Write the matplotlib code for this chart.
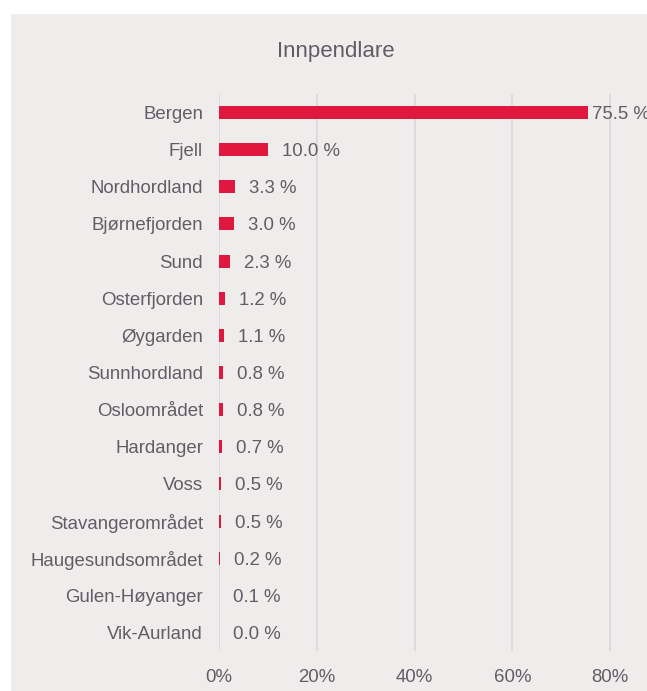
import matplotlib
matplotlib.use("Agg")
import matplotlib.pyplot as plt
from matplotlib.patches import Rectangle

plt.rcParams['font.family'] = ['Liberation Sans', 'DejaVu Sans']

# data
regions = ["Bergen", "Fjell", "Nordhordland", "Bjørnefjorden", "Sund",
           "Osterfjorden", "Øygarden", "Sunnhordland", "Osloområdet",
           "Hardanger", "Voss", "Stavangerområdet", "Haugesundsområdet",
           "Gulen-Høyanger", "Vik-Aurland"]
shares = [75.5, 10.0, 3.3, 3.0, 2.3, 1.2, 1.1, 0.8, 0.8, 0.7, 0.5, 0.5, 0.2, 0.1, 0.0]
xticks = [0, 20, 40, 60, 80]

text_col = "#655b66"
bar_col = "#e0173f"
bg_col = "#efedec"
grid_col = "#dcd8de"

W, H = 647, 691
fig = plt.figure(figsize=(W / 100, H / 100), dpi=100)
fig.patch.set_facecolor("white")
# grå bakgrunn
fig.patches.append(Rectangle((11 / W, 0), 1.01 - 11 / W, 1 - 14 / H,
                             transform=fig.transFigure, facecolor=bg_col,
                             edgecolor="none", zorder=-10))

ax = fig.add_axes([219 / W, 40 / H, 489 / W, 557 / H])
ax.set_zorder(5)
ax.set_facecolor("none")
ax.set_xlim(0, 100)
ax.set_ylim(len(regions) - 0.5, -0.5)

ax.barh(range(len(regions)), shares, height=0.35, color=bar_col, zorder=3)

ax.set_yticks(range(len(regions)))
ax.set_yticklabels(regions, fontsize=13.4, color=text_col)
ax.set_xticks(xticks)
ax.set_xticklabels([f"{t}%" for t in xticks], fontsize=13.4, color=text_col)
ax.tick_params(axis="both", length=0)
ax.tick_params(axis="y", pad=11.5)
ax.tick_params(axis="x", pad=13)
ax.grid(axis="x", color=grid_col, linewidth=1.3, zorder=1)
for s in ax.spines.values():
    s.set_visible(False)

# dataetiketter
for i, v in enumerate(shares):
    off = 3 if v == max(shares) else 10
    ax.annotate(f"{v:.1f} %", (v, i), xytext=(off, 0), textcoords="offset points",
                ha="left", va="center_baseline", fontsize=13.4, color=text_col,
                annotation_clip=False)

fig.text(335.5 / W, 1 - 57 / H, "Innpendlare", ha="center", va="baseline",
         fontsize=16, color=text_col)

fig.savefig("out.png", dpi=100)
